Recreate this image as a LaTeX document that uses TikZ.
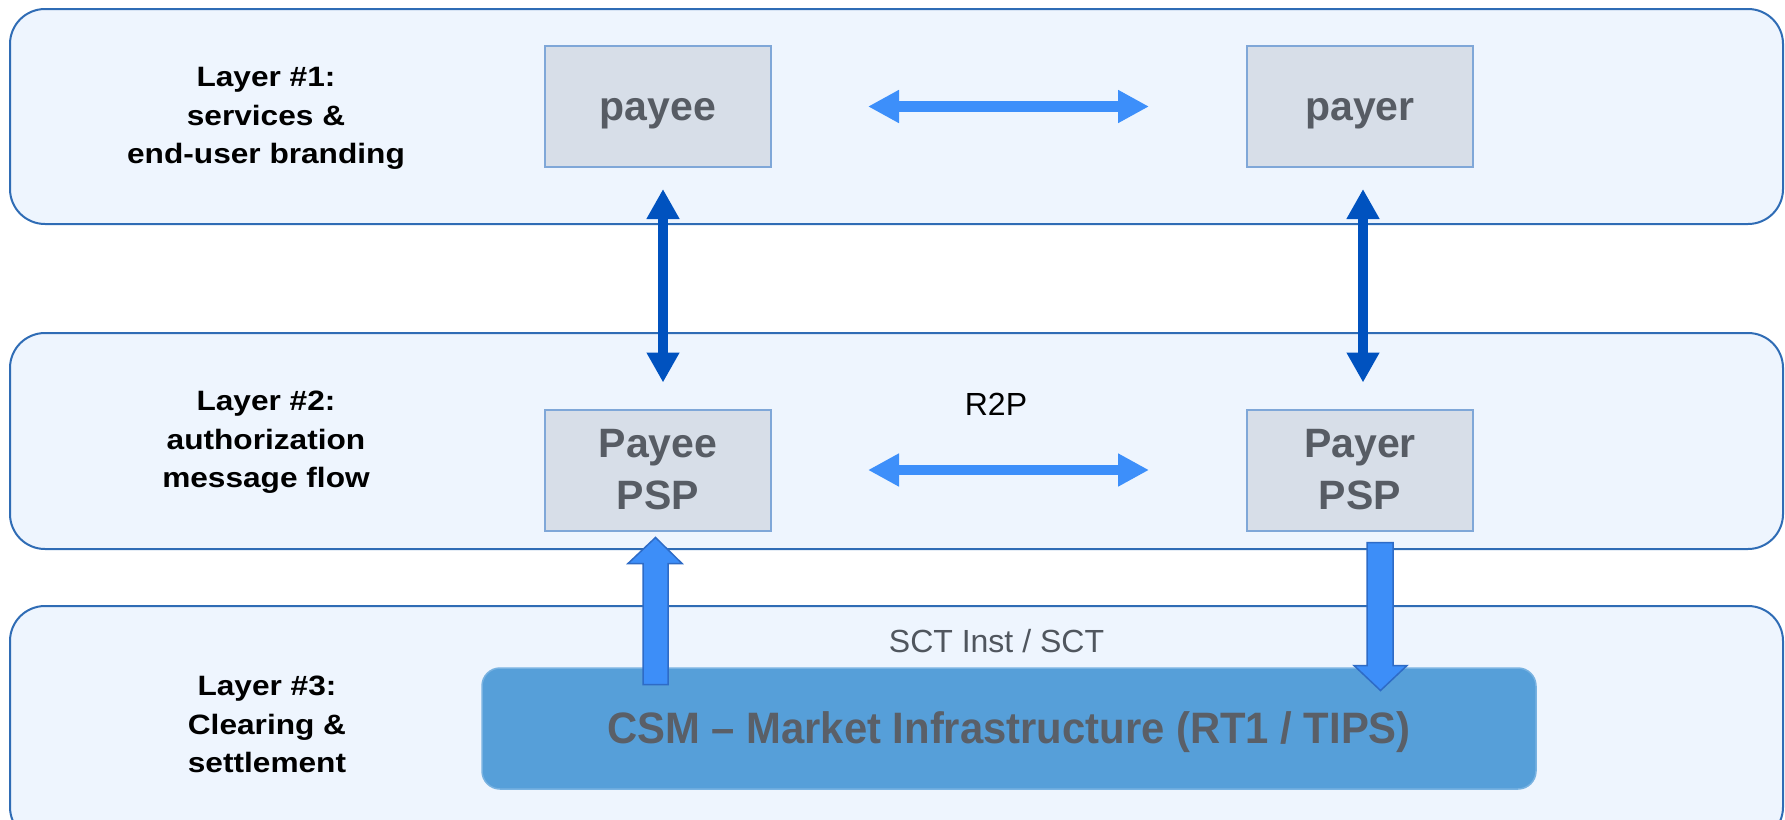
\documentclass[tikz,border=0pt]{standalone}
\usepackage{fontspec}
\setmainfont{Liberation Sans}
\newfontfamily\layerfont[FakeStretch=1.13]{Liberation Sans}
\newfontfamily\csmfont[FakeStretch=0.95]{Liberation Sans}
\usetikzlibrary{arrows.meta,calc}
\definecolor{layerfill}{HTML}{EEF5FE}
\definecolor{layerdraw}{HTML}{2F6CB5}
\definecolor{nodefill}{HTML}{D7DEE8}
\definecolor{nodedraw}{HTML}{7FA7D8}
\definecolor{nodetext}{HTML}{575C64}
\definecolor{darkarrow}{HTML}{0052BF}
\definecolor{lightarrow}{HTML}{3D8FFA}
\definecolor{csmfill}{HTML}{569FD9}
\definecolor{csmtext}{HTML}{5A5F67}
\definecolor{fatfill}{HTML}{3D8EF8}
\definecolor{fatdraw}{HTML}{2E6BC6}
\definecolor{sctgrey}{HTML}{50565E}
\begin{document}
\begin{tikzpicture}[x=1pt,y=-1pt,
  layerbox/.style={draw=layerdraw, fill=layerfill, line width=2pt, rounded corners=35pt, inner sep=0pt, minimum width=1773pt},
  layerlabel/.style={align=center, inner sep=0pt, font=\layerfont\bfseries\fontsize{28}{38.5}\selectfont},
  pbox/.style={draw=nodedraw, fill=nodefill, line width=2pt, inner sep=0pt, minimum width=226pt, minimum height=121pt, text=nodetext, font=\bfseries\fontsize{41}{52}\selectfont, align=center},
  oneline/.style={text height=37.1pt, text depth=8.7pt},
  csmbox/.style={fill=csmfill, draw=csmfill!80!white, line width=1.5pt, rounded corners=18pt, inner sep=0pt, minimum width=1054pt, minimum height=121pt, text=csmtext, font=\csmfont\bfseries\fontsize{44}{52}\selectfont, text height=39.8pt, text depth=9.3pt},
  darkarr/.style={draw=darkarrow, line width=10.5pt, {Triangle[length=30pt,width=31pt]}-{Triangle[length=30pt,width=31pt]}},
  lightarr/.style={draw=lightarrow, line width=10.5pt, {Triangle[length=31pt,width=31pt]}-{Triangle[length=31pt,width=31pt]}},
  fatarr/.style={draw=fatdraw, fill=fatfill, line width=1.5pt, line join=miter},
  plaintext/.style={anchor=base, inner sep=0pt, font=\fontsize{32}{38}\selectfont}
]
\useasboundingbox (0,0) rectangle (1785,819);
\clip (0,0) rectangle (1785,819);

% layers
\node[layerbox, minimum height=215pt] (L1) at (896.5,116.5) {};
\node[layerbox, minimum height=216pt] (L2) at (896.5,441) {};
\node[layerbox, minimum height=236pt] (L3) at (896.5,724) {};

% layer labels
\node[layerlabel] (T1) at (266,118.5) {Layer \#1:\\services \&\\end-user branding};
\node[layerlabel] (T2) at (266,442.5) {Layer \#2:\\authorization\\message flow};
\node[layerlabel] (T3) at (267,724.5) {Layer \#3:\\Clearing \&\\settlement};

% boxes
\node[pbox, oneline] (payee) at (658,106.5) {payee};
\node[pbox, oneline] (payer) at (1360,106.5) {payer};
\node[pbox] (payeepsp) at (658,470) {Payee\\PSP};
\node[pbox] (payerpsp) at (1360,470) {Payer\\PSP};
\node[csmbox] (csm) at (1009,728.5) {CSM – Market Infrastructure (RT1 / TIPS)};

% texts
\node[plaintext] (r2p) at (996,415) {R2P};
\node[plaintext, text=sctgrey] (sct) at (996.5,652) {SCT Inst / SCT};

% arrows
\draw[darkarr] ($(payee.south)+(5,21)$) -- ($(payeepsp.north)+(5,-26)$);
\draw[darkarr] ($(payer.south)+(3,21)$) -- ($(payerpsp.north)+(3,-26)$);
\draw[lightarr] ($(payee.east)+(96,0)$) -- ($(payer.west)+(-97,0)$);
\draw[lightarr] ($(payeepsp.east)+(96,0)$) -- ($(payerpsp.west)+(-97,0)$);

% fat arrows
\coordinate (uptip) at ($(payeepsp.south)+(-2.5,6)$);
\draw[fatarr] (uptip) -- ++(26.5,26) -- ++(-14,0) -- ++(0,121) -- ++(-25,0) -- ++(0,-121) -- ++(-15,0) -- cycle;
\coordinate (dntip) at ($(payerpsp.south)+(20.5,159)$);
\draw[fatarr] (dntip) -- ++(26.5,-25) -- ++(-14,0) -- ++(0,-123) -- ++(-26,0) -- ++(0,123) -- ++(-13,0) -- cycle;
\end{tikzpicture}
\end{document}
